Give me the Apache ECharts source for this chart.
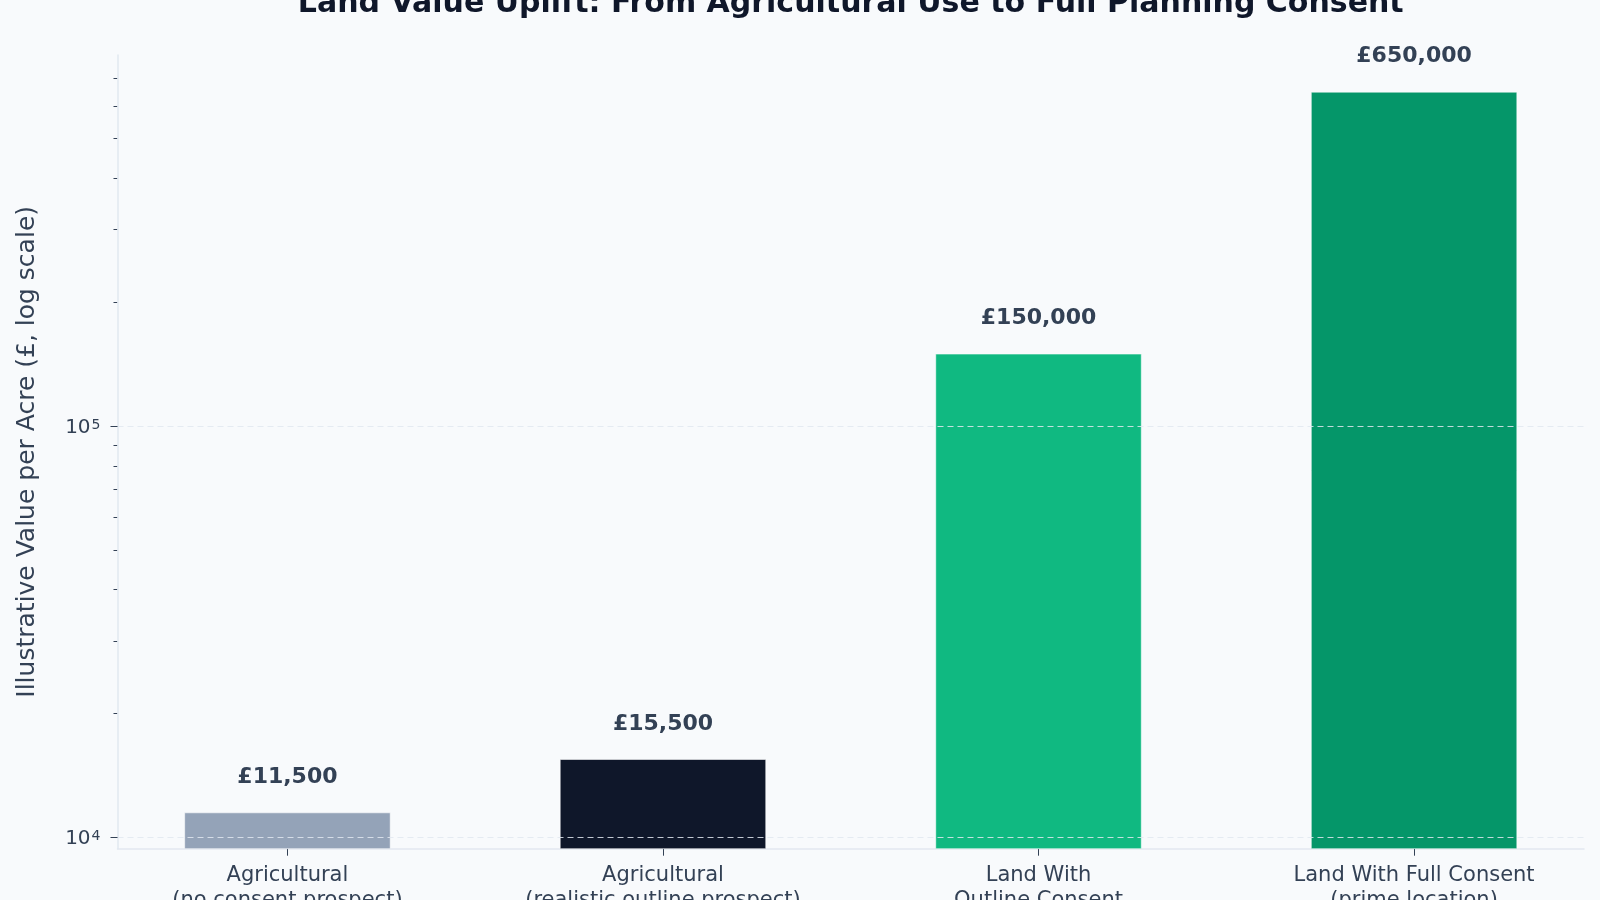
<!DOCTYPE html>
<html>
<head>
<meta charset="utf-8">
<title>Land Value Uplift</title>
<script src="https://cdn.jsdelivr.net/npm/echarts@6/dist/echarts.min.js"></script>
<style>
  html, body { margin: 0; padding: 0; background: #f8fafc; }
  #chart { width: 1600px; height: 900px; }
</style>
</head>
<body>
<div id="chart"></div>
<script>
// data
const categories = [
  'Agricultural\n(no consent prospect)',
  'Agricultural\n(realistic outline prospect)',
  'Land With\nOutline Consent',
  'Land With Full Consent\n(prime location)'
]
const values = [11500, 15500, 150000, 650000]
const barColors = ['#94a3b8', '#0f172a', '#10b981', '#059669']
const yMajorTicks = [10000, 100000]
const yMinorTicks = [20000, 30000, 40000, 50000, 60000, 70000, 80000, 90000,
  200000, 300000, 400000, 500000, 600000, 700000]
const categoryIndex = categories.map((c, i) => i)

const FONT = 'DejaVu Sans'
const TEXT = '#334155'

const grid = { left: 117.5, top: 55, width: 1466.5, height: 793.7, outerBoundsMode: 'none' }

// 10^n 标签（上标）
const powLabel = (v) => {
  const e = Math.round(Math.log10(v))
  return '{b|10}{s|' + e + '}'
}

const chart = echarts.init(document.getElementById('chart'))

const option = {
  backgroundColor: '#f8fafc',
  animation: false,
  textStyle: { fontFamily: FONT },
  graphic: [{
    type: 'text',
    x: grid.left + grid.width / 2,
    y: 4,
    style: {
      text: 'Land Value Uplift: From Agricultural Use to Full Planning Consent',
      font: 'bold 30px "DejaVu Sans"',
      fill: '#0f172a',
      align: 'center',
      verticalAlign: 'middle'
    }
  }],
  grid: grid,
  xAxis: {
    type: 'value',
    min: -0.4525,
    max: 3.4525,
    axisLine: { show: true, onZero: false, lineStyle: { color: '#e2e8f0', width: 1.5 } },
    axisTick: { show: true, customValues: categoryIndex, length: 7, lineStyle: { color: TEXT, width: 1 } },
    axisLabel: {
      customValues: categoryIndex,
      formatter: (v) => categories[Math.round(v)],
      fontFamily: FONT,
      fontSize: 21,
      lineHeight: 25,
      color: TEXT,
      margin: 14,
      align: 'center'
    },
    splitLine: { show: false }
  },
  yAxis: [
    {
      type: 'log',
      min: 9380,
      max: 798000,
      z: 5,
      name: 'Illustrative Value per Acre (£, log scale)',
      nameLocation: 'middle',
      nameGap: 78,
      nameTextStyle: { fontFamily: FONT, fontSize: 25, color: TEXT },
      axisLine: { show: true, onZero: false, lineStyle: { color: '#e2e8f0', width: 1.5 } },
      axisTick: { show: true, customValues: yMajorTicks, length: 7, lineStyle: { color: TEXT, width: 1 } },
      axisLabel: {
        customValues: yMajorTicks,
        formatter: powLabel,
        color: TEXT,
        margin: 17,
        padding: [4, 0, 0, 0],
        rich: {
          b: { fontFamily: FONT, fontSize: 20, lineHeight: 20, color: TEXT },
          s: { fontFamily: FONT, fontSize: 14, lineHeight: 10, color: TEXT, verticalAlign: 'top', padding: [0, 0, 0, 1] }
        }
      },
      splitLine: {
        show: true,
        lineStyle: { color: 'rgba(226,232,240,0.85)', type: [6, 4], width: 1.2 }
      }
    },
    {
      // 只画次刻度
      type: 'log',
      position: 'left',
      min: 9380,
      max: 798000,
      axisLine: { show: false, onZero: false },
      axisTick: { show: true, customValues: yMinorTicks, length: 4, lineStyle: { color: TEXT, width: 1 } },
      axisLabel: { show: false },
      splitLine: { show: false }
    }
  ],
  series: [{
    type: 'bar',
    yAxisIndex: 0,
    barWidth: '55%',
    data: values.map((v, i) => ({
      value: [i, v],
      itemStyle: { color: barColors[i], borderColor: 'rgba(255,255,255,0.55)', borderWidth: 1 }
    })),
    label: {
      show: true,
      position: 'top',
      distance: 24,
      formatter: (p) => '£' + p.value[1].toLocaleString('en-GB'),
      fontFamily: FONT,
      fontSize: 22,
      lineHeight: 22,
      fontWeight: 'bold',
      color: TEXT
    }
  }]
}

chart.setOption(option)
</script>
</body>
</html>
